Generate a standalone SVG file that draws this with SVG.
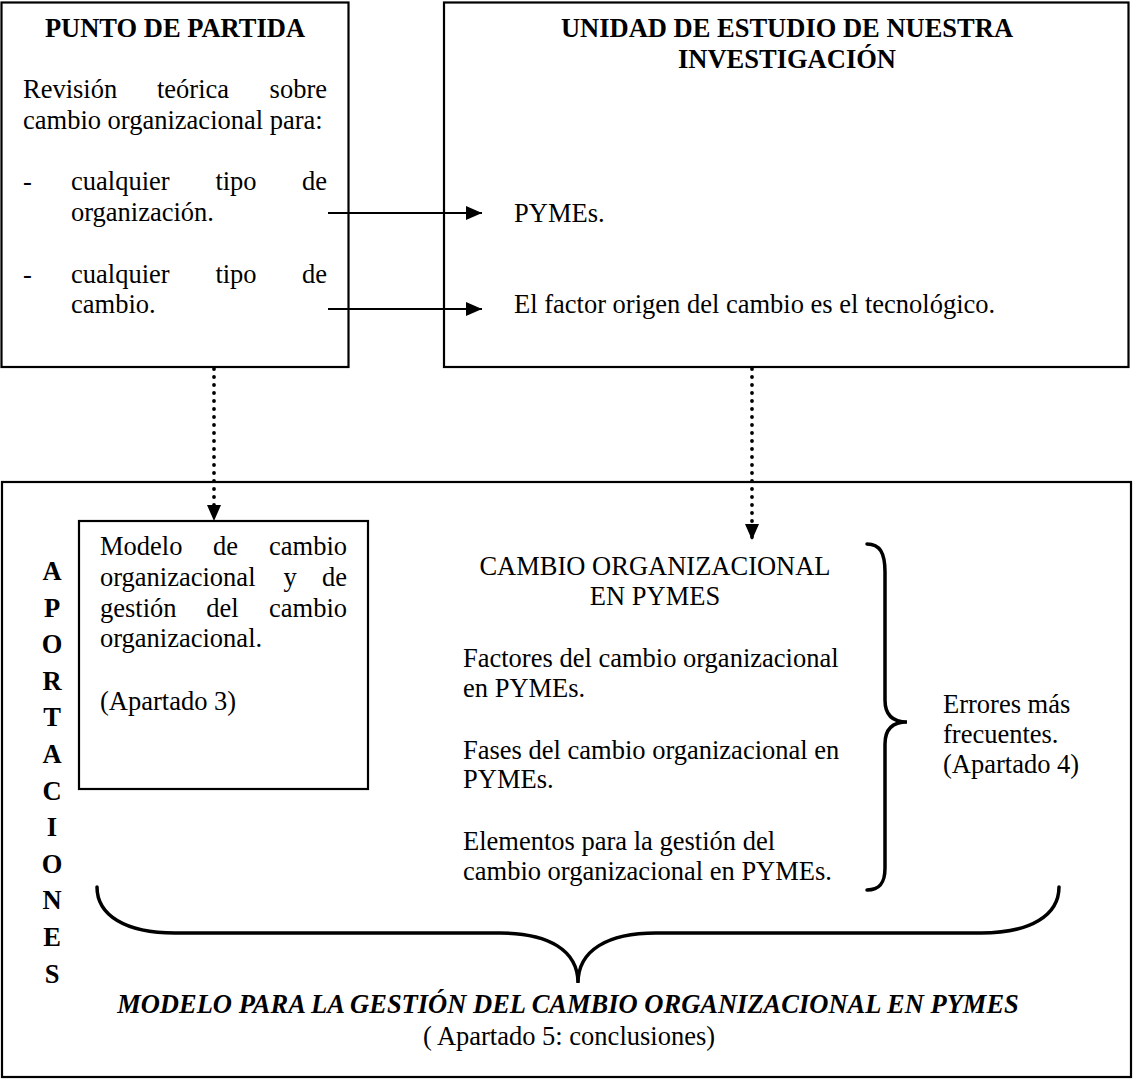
<svg xmlns="http://www.w3.org/2000/svg" width="1134" height="1079" viewBox="0 0 1134 1079">
<style>
  .t { font-family: "Liberation Serif", "Times New Roman", serif; font-size: 26.5px; fill: #000; }
  .b { font-weight: bold; }
  .bi { font-weight: bold; font-style: italic; }
  .m { text-anchor: middle; }
  .e { text-anchor: end; }
  .box { fill: none; stroke: #000; stroke-width: 2.2; }
  .arrow { fill: none; stroke: #000; stroke-width: 2; }
  .dots { fill: none; stroke: #000; stroke-width: 3.8; stroke-dasharray: 0 8; stroke-linecap: round; }
  .brace { fill: none; stroke: #000; stroke-width: 3.5; stroke-linecap: round; }
</style>
<defs>
  <marker id="head" viewBox="0 0 16 14" refX="16" refY="7" markerWidth="16" markerHeight="14" markerUnits="userSpaceOnUse" orient="auto">
    <path d="M0,0 L16,7 L0,14 z" fill="#000"/>
  </marker>
</defs>
<rect x="0" y="0" width="1134" height="1079" fill="#fff"/>

<g id="punto-de-partida">
  <rect class="box" x="1.5" y="2.5" width="347" height="364.5"/>
  <text class="t b m" x="175" y="37">PUNTO DE PARTIDA</text>
  <text class="t" x="23" y="98">Revisión</text>
  <text class="t m" x="193" y="98">teórica</text>
  <text class="t e" x="327" y="98">sobre</text>
  <text class="t" x="23" y="129">cambio organizacional para:</text>
  <text class="t" x="23" y="190">-</text>
  <text class="t" x="71" y="190">cualquier</text>
  <text class="t m" x="236" y="190">tipo</text>
  <text class="t e" x="327" y="190">de</text>
  <text class="t" x="71" y="221">organización.</text>
  <text class="t" x="23" y="283">-</text>
  <text class="t" x="71" y="283">cualquier</text>
  <text class="t m" x="236" y="283">tipo</text>
  <text class="t e" x="327" y="283">de</text>
  <text class="t" x="71" y="313">cambio.</text>
</g>

<g id="unidad-de-estudio">
  <rect class="box" x="444" y="2.5" width="684.5" height="364.5"/>
  <text class="t b m" x="787" y="37">UNIDAD DE ESTUDIO DE NUESTRA</text>
  <text class="t b m" x="787" y="68">INVESTIGACIÓN</text>
  <text class="t" x="514" y="222">PYMEs.</text>
  <text class="t" x="514" y="313">El factor origen del cambio es el tecnológico.</text>
</g>

<g id="aportaciones">
  <rect class="box" x="2" y="482" width="1129" height="595"/>
  <g class="t b m">
    <text x="52" y="580">A</text>
    <text x="52" y="616.6">P</text>
    <text x="52" y="653.2">O</text>
    <text x="52" y="689.8">R</text>
    <text x="52" y="726.4">T</text>
    <text x="52" y="763">A</text>
    <text x="52" y="799.6">C</text>
    <text x="52" y="836.2">I</text>
    <text x="52" y="872.8">O</text>
    <text x="52" y="909.4">N</text>
    <text x="52" y="946">E</text>
    <text x="52" y="982.6">S</text>
  </g>
</g>

<g id="modelo-cambio">
  <rect class="box" x="79" y="521" width="289" height="268"/>
  <text class="t" x="100" y="555">Modelo</text>
  <text class="t m" x="225.5" y="555">de</text>
  <text class="t e" x="347" y="555">cambio</text>
  <text class="t" x="100" y="586">organizacional</text>
  <text class="t m" x="290" y="586">y</text>
  <text class="t e" x="347" y="586">de</text>
  <text class="t" x="100" y="617">gestión</text>
  <text class="t m" x="222.5" y="617">del</text>
  <text class="t e" x="347" y="617">cambio</text>
  <text class="t" x="100" y="647">organizacional.</text>
  <text class="t" x="100" y="710">(Apartado 3)</text>
</g>

<g id="cambio-pymes">
  <text class="t m" x="655" y="575">CAMBIO ORGANIZACIONAL</text>
  <text class="t m" x="655" y="605">EN PYMES</text>
  <text class="t" x="463" y="667">Factores del cambio organizacional</text>
  <text class="t" x="463" y="697">en PYMEs.</text>
  <text class="t" x="463" y="759">Fases del cambio organizacional en</text>
  <text class="t" x="463" y="788">PYMEs.</text>
  <text class="t" x="463" y="850">Elementos para la gestión del</text>
  <text class="t" x="463" y="880">cambio organizacional en PYMEs.</text>
</g>

<g id="errores">
  <text class="t" x="943" y="713">Errores más</text>
  <text class="t" x="943" y="743">frecuentes.</text>
  <text class="t" x="943" y="773">(Apartado 4)</text>
</g>

<g id="modelo-gestion">
  <text class="t bi m" x="568" y="1013">MODELO PARA LA GESTIÓN DEL CAMBIO ORGANIZACIONAL EN PYMES</text>
  <text class="t m" x="569" y="1045">( Apartado 5: conclusiones)</text>
</g>

<g id="connectors">
  <path class="arrow" d="M328,213 H482" marker-end="url(#head)"/>
  <path class="arrow" d="M328,309 H482" marker-end="url(#head)"/>
  <path class="dots" d="M214,369 V521" marker-end="url(#head)"/>
  <path class="dots" d="M752,369 V540" marker-end="url(#head)"/>
  <path class="brace" d="M867,544 C880,544 885,553 885,572 L885,700 C885,715 893,722 907,722 C893,722 885,729 885,744 L885,868 C885,884 879,890 867,890"/>
  <path class="brace" d="M97,887 C97,915 125,933 175,933 L500,933 C548,933 578,950 578,983 C578,950 608,933 656,933 L981,933 C1031,933 1059,915 1059,887"/>
</g>
</svg>
